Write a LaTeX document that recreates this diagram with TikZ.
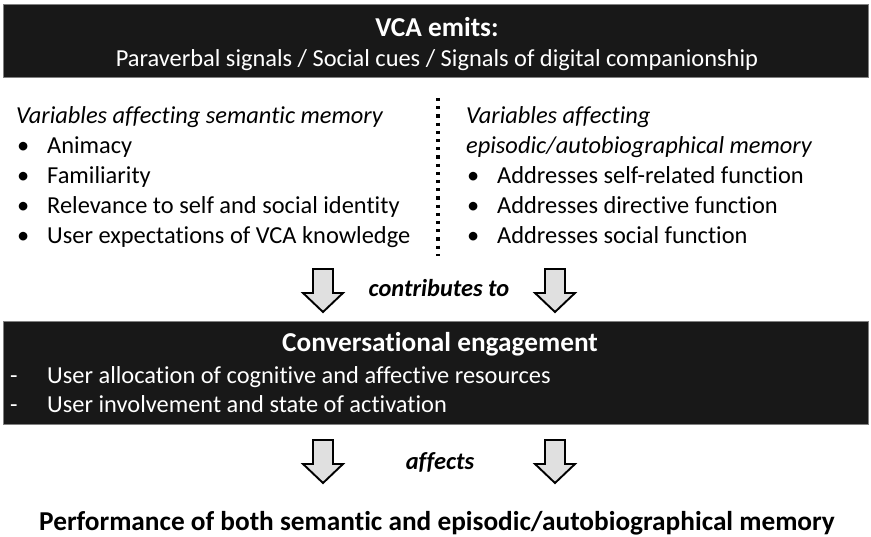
\documentclass[tikz,border=0pt]{standalone}
\usepackage{fontspec}
\setmainfont{Carlito}[Ligatures=NoCommon]
\definecolor{boxblack}{HTML}{181818}
\definecolor{boxedge}{HTML}{808080}
\definecolor{arrowfill}{HTML}{E0E0E0}
\newcommand{\regsize}{\fontsize{24.4}{28}\selectfont}
\newcommand{\bigsize}{\fontsize{27.3}{31}\selectfont}
\tikzset{
  blackbox/.style={fill=boxblack, draw=boxedge, line width=1pt},
  txt/.style={inner sep=0pt, font=\regsize, anchor=base west},
  wtxt/.style={txt, text=white},
  headtxt/.style={txt, anchor=base, font=\bigsize\bfseries},
  linktxt/.style={txt, anchor=base, font=\regsize\bfseries\itshape},
  blockarrow/.style={fill=arrowfill, draw=black, line width=1.9pt, line join=miter},
}
\newcommand{\downarrowat}[3]{% x, ytop, ytip
  \draw[blockarrow] (#1-10,#2) -- (#1+10,#2) -- (#1+10,#2+24) -- (#1+20,#2+24) -- (#1,#3) -- (#1-20,#2+24) -- (#1-10,#2+24) -- cycle;
}
\begin{document}
\begin{tikzpicture}[x=1pt,y=-1pt]
\useasboundingbox (0,0) rectangle (871,537);
% top box
\draw[blackbox] (3,5) rectangle (868,78);
\node[headtxt, text=white] (vca) at (437,37) {VCA emits:};
\node[wtxt, anchor=base] (vcasub) at (437,67) {Paraverbal signals / Social cues / Signals of digital companionship};
% left column
\node[txt, font=\regsize\itshape] (semh) at (16,124) {Variables affecting semantic memory};
\foreach \t [count=\i] in {Animacy, Familiarity, Relevance to self and social identity, User expectations of VCA knowledge}{
  \node[txt] (sb\i) at (17,124+30*\i) {•};
  \node[txt] (st\i) at (47,124+30*\i) {\t};
}
% dotted separator
\coordinate (dtop) at (438,98);
\coordinate (dbot) at (438,256);
\draw[line width=3.2pt, dash pattern=on 3.2pt off 5pt] (dtop) -- (dbot);
% right column
\node[txt, font=\regsize\itshape] (eph1) at (466,124) {Variables affecting};
\node[txt, font=\regsize\itshape] (eph2) at (466,154) {episodic/autobiographical memory};
\foreach \t [count=\i] in {Addresses self-related function, Addresses directive function, Addresses social function}{
  \node[txt] (eb\i) at (467,154+30*\i) {•};
  \node[txt] (et\i) at (497,154+30*\i) {\t};
}
% contributes to
\downarrowat{323}{269}{312}
\downarrowat{555}{269}{312}
\node[linktxt] (contrib) at (439,297) {contributes to};
% engagement box
\draw[blackbox] (3,322) rectangle (868,425);
\node[headtxt, text=white] (ce) at (440,352) {Conversational engagement};
\node[wtxt] (d1) at (10,384) {-};
\node[wtxt] (ce1) at (47,384) {User allocation of cognitive and affective resources};
\node[wtxt] (d2) at (10,413) {-};
\node[wtxt] (ce2) at (47,413) {User involvement and state of activation};
% affects
\downarrowat{323}{440}{483}
\downarrowat{555}{440}{483}
\node[linktxt] (aff) at (440,469) {affects};
% final
\node[headtxt] (perf) at (437,530) {Performance of both semantic and episodic/autobiographical memory};
\end{tikzpicture}
\end{document}
